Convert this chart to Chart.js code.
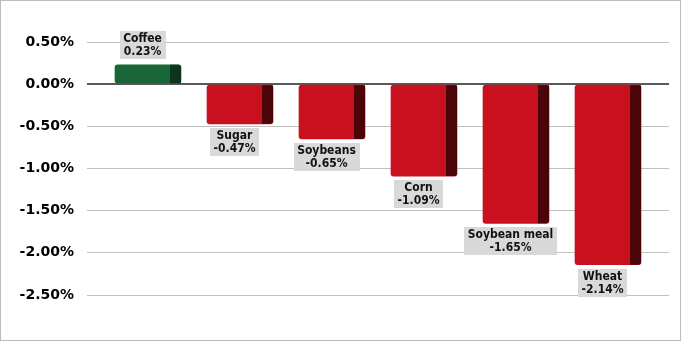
<!DOCTYPE html>
<html>
<head>
<meta charset="utf-8">
<script src="https://cdn.jsdelivr.net/npm/chart.js@4"></script>
<style>
  html, body { margin: 0; padding: 0; background: #fff; }
  #wrap { width: 679px; height: 339px; border: 1px solid #bdbdbd; position: relative; }
</style>
</head>
<body>
<div id="wrap"><canvas id="chart" width="679" height="339"></canvas></div>
<script>
const categories = ["Coffee", "Sugar", "Soybeans", "Corn", "Soybean meal", "Wheat"];
const changes = [0.23, -0.47, -0.65, -1.09, -1.65, -2.14];
const yTicks = [0.5, 0, -0.5, -1, -1.5, -2, -2.5];

const frontColor = v => v >= 0 ? "#186538" : "#c8101e";
const sideColor = v => v >= 0 ? "#0c3420" : "#4a0509";

// dark right side of each bar plus the grey label boxes
const barDecor = {
  id: "barDecor",
  afterDatasetsDraw(chart) {
    const c = chart.ctx;
    const meta = chart.getDatasetMeta(0);
    meta.data.forEach((bar, i) => {
      const v = changes[i];
      const left = bar.x - bar.width / 2;
      const right = bar.x + bar.width / 2;
      const top = Math.min(bar.y, bar.base);
      const bottom = Math.max(bar.y, bar.base);
      const side = 11;

      c.save();
      c.fillStyle = sideColor(v);
      c.beginPath();
      c.roundRect(right - side, top, side, bottom - top, v >= 0 ? [0, 3, 0, 0] : [0, 0, 3, 0]);
      c.fill();
      c.restore();

      // label
      const cx = left + (bar.width - side) / 2;
      const lines = [categories[i], v.toFixed(2) + "%"];
      c.save();
      c.font = "bold 12px 'DejaVu Sans Condensed', 'DejaVu Sans'";
      const w = Math.max(...lines.map(t => c.measureText(t).width)) + 7;
      const h = 28;
      const by = v >= 0 ? top - 6 - h : bottom + 4;
      c.fillStyle = "#d9d9d9";
      c.fillRect(Math.round(cx - w / 2), Math.round(by), Math.round(w), h);
      c.fillStyle = "#111";
      c.textAlign = "center";
      c.textBaseline = "middle";
      c.fillText(lines[0], cx, by + 8);
      c.fillText(lines[1], cx, by + 21);
      c.restore();
    });
  }
};

new Chart(document.getElementById("chart"), {
  type: "bar",
  data: {
    datasets: [
      {
        data: changes.map((v, i) => ({ x: i, y: v })),
        backgroundColor: changes.map(frontColor),
        barThickness: 66,
        borderRadius: 3,
        borderSkipped: false
      }
    ]
  },
  options: {
    responsive: false,
    animation: false,
    layout: { padding: { left: 0, right: 11, top: 41, bottom: 45 } },
    plugins: {
      legend: { display: false },
      tooltip: { enabled: false }
    },
    scales: {
      x: {
        type: "linear",
        display: false,
        offset: false,
        min: -0.663,
        max: 5.663
      },
      y: {
        min: -2.5,
        max: 0.5,
        afterFit: s => { s.width = 86; },
        afterBuildTicks: s => { s.ticks = yTicks.map(v => ({ value: v })); },
        border: { display: false },
        grid: {
          drawTicks: false,
          color: ctx => ctx.tick && ctx.tick.value === 0 ? "#595959" : "#c0c0c0",
          lineWidth: ctx => ctx.tick && ctx.tick.value === 0 ? 2 : 1
        },
        ticks: {
          padding: 13,
          color: "#000",
          font: { family: "'DejaVu Sans'", size: 14, weight: "bold" },
          callback: v => v.toFixed(2) + "%"
        }
      }
    }
  },
  plugins: [barDecor]
});
</script>
</body>
</html>
